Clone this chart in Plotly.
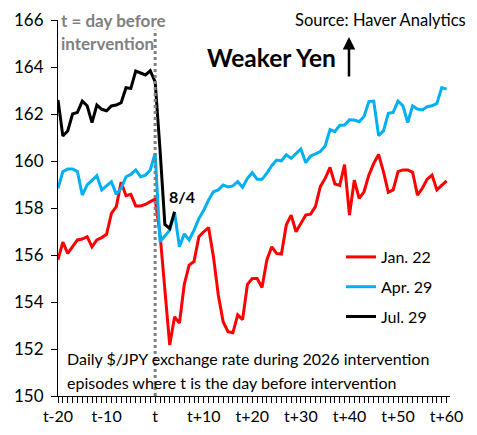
import plotly.graph_objects as go

days = list(range(-20, 61))
x_tick_vals = [-20, -10, 0, 10, 20, 30, 40, 50, 60]
x_tick_text = ["t-20", "t-10", "t", "t+10", "t+20", "t+30", "t+40", "t+50", "t+60"]
y_tick_vals = [150, 152, 154, 156, 158, 160, 162, 164, 166]

jan22 = [155.80, 156.55, 156.07, 156.35, 156.64, 156.68, 156.78, 156.35, 156.64, 156.74,
         156.88, 157.77, 158.06, 159.10, 158.52, 158.58, 158.09, 158.09, 158.15, 158.27,
         158.38, 156.90, 154.60, 152.17, 153.37, 153.10, 154.75, 155.57, 155.72, 156.78,
         156.99, 157.17, 155.93, 154.30, 153.16, 152.74, 152.69, 153.45, 153.25, 154.75,
         155.00, 155.00, 154.62, 155.79, 156.35, 156.07, 156.04, 157.28, 157.70, 156.99,
         157.34, 157.70, 157.74, 158.06, 158.91, 159.26, 159.73, 159.02, 158.96, 159.85,
         157.70, 159.19, 158.41, 158.69, 159.40, 159.90, 160.28, 159.55, 158.67, 158.77,
         159.55, 159.62, 159.62, 159.52, 158.55, 158.84, 159.23, 159.40, 158.77, 158.98,
         159.15]
apr29 = [158.84, 159.55, 159.66, 159.66, 159.55, 158.55, 158.98, 159.19, 159.37, 158.77,
         158.95, 159.12, 158.58, 158.84, 159.33, 159.43, 159.62, 159.33, 159.40, 159.62,
         160.33, 156.57, 156.81, 157.06, 157.80, 156.35, 156.90, 156.64, 157.06, 157.55,
         157.90, 158.34, 158.69, 158.77, 158.98, 158.90, 158.94, 159.12, 158.88, 159.26,
         159.50, 159.22, 159.22, 159.48, 159.80, 160.04, 160.01, 160.26, 160.11, 160.33,
         160.51, 159.93, 160.21, 160.30, 160.40, 160.64, 161.34, 161.25, 161.52, 161.53,
         161.75, 161.74, 161.67, 161.89, 162.53, 162.55, 161.08, 161.28, 162.03, 162.07,
         162.55, 162.35, 161.64, 162.35, 162.21, 162.17, 162.31, 162.35, 162.45, 163.12,
         163.06]
jul29 = [162.60, 161.06, 161.28, 162.00, 162.07, 162.55, 162.35, 161.63, 162.38, 162.20,
         162.14, 162.34, 162.38, 162.48, 163.12, 163.09, 163.83, 163.76, 163.66, 163.84,
         163.37, 160.50, 157.30, 157.13, 157.84]

series_names = ["Jan. 22", "Apr. 29", "Jul. 29"]
series_colors = ["#FF0000", "#00B0F0", "#000000"]

FONT = "Lato"

fig = go.Figure()
for name, vals, col in zip(series_names, [jan22, apr29, jul29], series_colors):
    fig.add_trace(go.Scatter(
        x=days[:len(vals)], y=vals, mode="lines", name=name,
        legendgroup=name,
        line=dict(color=col, width=3),
    ))

# vertical dotted line at t
fig.add_shape(type="line", xref="x", yref="y", x0=0, x1=0, y0=150, y1=165.6,
              line=dict(color="#808080", width=3, dash="dot"), layer="above")

PW, PH = 392, 376  # plot area size in px; plot area top-left on screen at (58, 20)

def px(xs):
    return (xs - 58) / PW

def py(ys):
    return (396 - ys) / PH

ann = []
ann.append(dict(text="<b>t = day before</b>", xref="paper", yref="paper",
                x=px(59), y=py(21), xanchor="left", yanchor="middle", showarrow=False,
                font=dict(family=FONT, size=17, color="#808080")))
ann.append(dict(text="<b>intervention</b>", xref="paper", yref="paper",
                x=px(59), y=py(43), xanchor="left", yanchor="middle", showarrow=False,
                font=dict(family=FONT, size=17, color="#808080")))
ann.append(dict(text="Source: Haver Analytics", xref="paper", yref="paper",
                x=px(293), y=py(20), xanchor="left", yanchor="middle", showarrow=False,
                font=dict(family=FONT, size=16.5, color="#000000")))
ann.append(dict(text="<b>Weaker Yen</b>", xref="paper", yref="paper",
                x=px(205), y=py(57), xanchor="left", yanchor="middle",
                showarrow=False, font=dict(family=FONT, size=24.5, color="#000000")))
ann.append(dict(text="", xref="paper", yref="paper",
                x=px(349), y=py(37), ax=0, ay=41,
                showarrow=True, arrowhead=2, arrowsize=1, arrowwidth=2.5,
                arrowcolor="#000000"))
ann.append(dict(text="<b>8/4</b>", xref="x", yref="y", x=5.56, y=158.47,
                xanchor="center", yanchor="middle", showarrow=False,
                font=dict(family=FONT, size=16, color="#000000")))
ann.append(dict(text="Daily $/JPY exchange rate during 2026 intervention", xref="paper",
                yref="paper", x=px(65), y=py(358), xanchor="left",
                yanchor="middle", showarrow=False,
                font=dict(family=FONT, size=16, color="#000000")))
ann.append(dict(text="episodes where t is the day before intervention", xref="paper",
                yref="paper", x=px(65), y=py(382), xanchor="left",
                yanchor="middle", showarrow=False,
                font=dict(family=FONT, size=16, color="#000000")))

# the page body has an 8px default margin, so the figure is offset by 8px
fig.update_layout(
    width=469, height=427,
    margin=dict(l=50, r=27, t=12, b=39, autoexpand=False),
    paper_bgcolor="white", plot_bgcolor="white",
    font=dict(family=FONT, size=15, color="#000000"),
    showlegend=True,
    legend=dict(x=px(341), y=py(240), xanchor="left", yanchor="top",
                bgcolor="rgba(0,0,0,0)", tracegroupgap=6,
                font=dict(family=FONT, size=16, color="#000000")),
    annotations=ann,
)
fig.update_xaxes(range=[-20, 60.7], tickmode="array", tickvals=x_tick_vals,
                 ticktext=x_tick_text, ticks="outside", ticklen=6, tickwidth=1,
                 tickcolor="#000000", showline=True, linecolor="#000000", linewidth=1.2,
                 showgrid=False, zeroline=False, automargin=False,
                 minor=dict(dtick=1, tick0=0, ticks="outside", ticklen=6, tickwidth=1,
                            tickcolor="#000000", showgrid=False),
                 tickfont=dict(family=FONT, size=16))
fig.update_yaxes(range=[150, 166], tickmode="array", tickvals=y_tick_vals,
                 ticks="outside", ticklen=6, tickwidth=1, tickcolor="#000000",
                 showline=True, linecolor="#000000", linewidth=1.2, showgrid=False,
                 zeroline=False, tickfont=dict(family=FONT, size=17), automargin=False,
                 ticklabelstandoff=4)

fig.write_html("out.html")
